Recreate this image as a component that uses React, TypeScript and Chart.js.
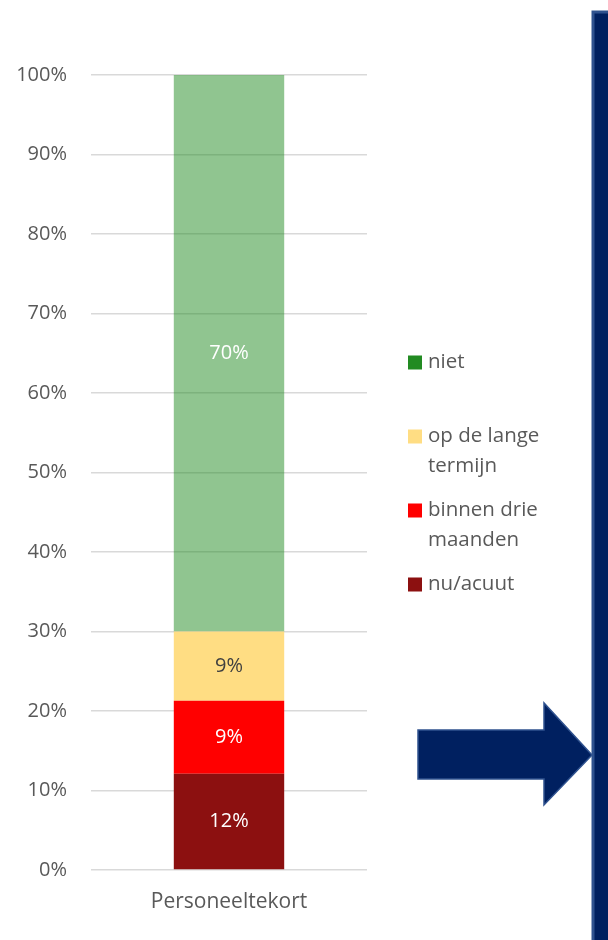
import React, { useEffect, useRef } from "react";
import { Chart, registerables } from "chart.js";

Chart.register(...registerables);

// ---- data ----
const categories = ["Personeeltekort"];
const seriesNames = ["nu/acuut", "binnen drie maanden", "op de lange termijn", "niet"];
const legendLines = [["nu/acuut"], ["binnen drie", "maanden"], ["op de lange", "termijn"], ["niet"]];
const nuAcuut = [12.1];
const binnenDrieMaanden = [9.2];
const opDeLangeTermijn = [8.7];
const niet = [70.0];
const valueLabels = [["12%"], ["9%"], ["9%"], ["70%"]];
const yTickMax = 100;
const yTickStep = 10;

// ---- styles ----
const FONT = "'Open Sans', 'Noto Sans', sans-serif";
const TEXT = "#595959";
const barColors = ["#8C1010", "#FF0000", "#FFDD83", "rgba(34,139,34,0.5)"];
const legendColors = ["#8C1010", "#FF0000", "#FFDD83", "#228B22"];
const labelColors = ["#FFFFFF", "#FFFFFF", "#404040", "#FFFFFF"];

const seriesValues = [nuAcuut, binnenDrieMaanden, opDeLangeTermijn, niet];

const labelPlugin = {
  id: "segLabels",
  afterDatasetsDraw(chart: any) {
    const ctx = chart.ctx;
    ctx.save();
    ctx.font = `20px ${FONT}`;
    ctx.textAlign = "center";
    ctx.textBaseline = "middle";
    chart.data.datasets.forEach((ds: any, i: number) => {
      const meta = chart.getDatasetMeta(i);
      meta.data.forEach((bar: any, j: number) => {
        const cy = (bar.y + bar.base) / 2;
        ctx.fillStyle = labelColors[i];
        ctx.fillText(valueLabels[i][j], bar.x, cy);
      });
    });
    ctx.restore();
  },
};

const legendPlugin = {
  id: "sideLegend",
  afterDraw(chart: any) {
    const ctx = chart.ctx;
    const area = chart.chartArea;
    const n = seriesNames.length;
    const step = 74;
    const lineH = 30;
    const mid = (area.top + area.bottom) / 2 + 1;
    const first = mid - ((n - 1) / 2) * step;
    const boxX = area.right + 41;
    const textX = boxX + 20;
    ctx.save();
    ctx.font = `20.5px ${FONT}`;
    ctx.textAlign = "left";
    ctx.textBaseline = "middle";
    for (let k = 0; k < n; k++) {
      const i = n - 1 - k;
      const y = first + k * step;
      ctx.fillStyle = legendColors[i];
      ctx.fillRect(boxX, y - 7, 14, 14);
      ctx.fillStyle = TEXT;
      legendLines[i].forEach((line, li) => {
        ctx.fillText(line, textX, y + li * lineH);
      });
    }
    ctx.restore();
  },
};

export default function App() {
  const ref = useRef<HTMLCanvasElement>(null);
  useEffect(() => {
    if (!ref.current) return;
    const chart = new Chart(ref.current, {
      type: "bar",
      data: {
        labels: categories,
        datasets: seriesNames.map((name, i) => ({
          label: name,
          data: seriesValues[i],
          backgroundColor: barColors[i],
          borderWidth: 0,
          barPercentage: 0.4,
          categoryPercentage: 1,
        })),
      },
      options: {
        responsive: false,
        animation: false,
        layout: { padding: { top: 75, right: 241, left: 0, bottom: 0 } },
        plugins: {
          legend: { display: false },
          tooltip: { enabled: false },
        },
        scales: {
          x: {
            stacked: true,
            grid: { display: false },
            border: { display: false },
            ticks: { color: TEXT, font: { family: FONT, size: 21 }, padding: 11 },
            afterFit: (s: any) => {
              s.height = 70;
            },
          },
          y: {
            stacked: true,
            min: 0,
            max: yTickMax,
            ticks: {
              stepSize: yTickStep,
              callback: (v: any) => v + "%",
              color: TEXT,
              font: { family: FONT, size: 20 },
              padding: 24,
            },
            grid: { color: "#D9D9D9", lineWidth: 1.5, drawTicks: false },
            border: { display: false },
            afterFit: (s: any) => {
              s.width = 91;
            },
          },
        },
      },
      plugins: [labelPlugin, legendPlugin],
    } as any);
    return () => chart.destroy();
  }, []);

  return (
    <div style={{ position: "absolute", left: 0, top: 0, width: 608, height: 940, background: "#fff" }}>
      <canvas ref={ref} width={608} height={940} style={{ position: "absolute", left: 0, top: 0 }} />
      <svg width={608} height={940} style={{ position: "absolute", left: 0, top: 0, pointerEvents: "none" }}>
        <polygon
          points="418,730 544,730 544,703 592,755 544,805 544,779 418,779"
          fill="#002060"
          stroke="#2F528F"
          strokeWidth={1.5}
        />
        <rect x={593} y={12} width={30} height={940} fill="#002060" stroke="#2F528F" strokeWidth={3} />
      </svg>
    </div>
  );
}
